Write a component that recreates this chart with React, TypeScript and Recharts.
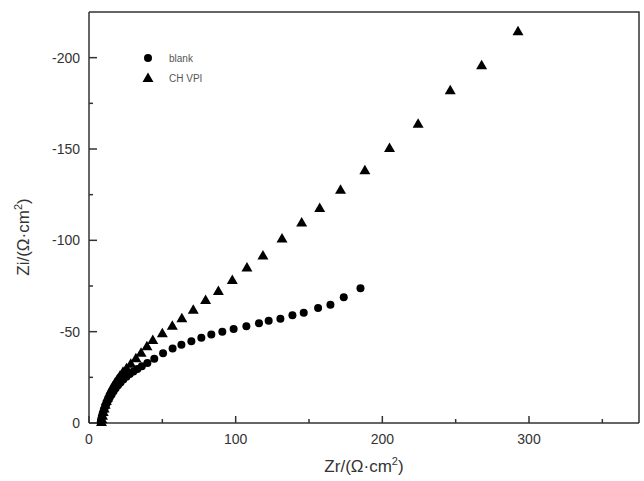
import { ScatterChart, Scatter, XAxis, YAxis } from 'recharts'

// Zr (ohm cm2) and Zi (ohm cm2)
const blankZr = [8, 8.3, 8.7, 9.2, 9.8, 10.5, 11.3, 12.2, 13.2, 14.3, 15.5, 16.8, 18.2, 19.8, 21.5, 23.4, 25.5, 27.8, 30.3, 33, 36, 39.8, 44.5, 50.5, 57, 63, 69.8, 76.6, 83.4, 90.9, 98.6, 107.3, 115.9, 122.5, 130.5, 138.7, 146.4, 156.2, 164.6, 173.7, 185.1]
const blankZi = [-0.5, -1.8, -3.2, -4.7, -6.2, -7.8, -9.4, -11, -12.6, -14.2, -15.8, -17.4, -19, -20.6, -22.2, -23.8, -25.3, -26.8, -28.2, -29.6, -31, -32.8, -35.2, -38.2, -40.8, -42.8, -44.8, -46.7, -48.5, -50, -51.5, -53, -54.6, -56, -57.1, -59, -60.4, -63, -64.8, -68.8, -73.8]

const vpiZr = [8.5, 8.8, 9.2, 9.7, 10.3, 11, 11.8, 12.7, 13.8, 15, 16.3, 17.8, 19.4, 21.2, 23.2, 25.6, 28.5, 32, 35.5, 39.5, 43.5, 50, 56.8, 63.3, 71.1, 79.5, 88.2, 97.7, 107.7, 118.6, 131.6, 145, 157.3, 171.5, 188.1, 204.9, 224.4, 246.3, 267.7, 292.5]
const vpiZi = [-0.5, -2, -4, -6, -8, -10, -12, -14, -16, -18, -20, -22, -24, -26, -28, -30, -32.5, -35.5, -38.5, -42, -45.4, -49.1, -53.3, -57.3, -62, -67.3, -72.2, -78.3, -85.1, -91.7, -101, -109.8, -117.7, -127.7, -138.3, -150.6, -163.8, -182.2, -195.8, -214.4]

const xTicks = [0, 50, 100, 150, 200, 250, 300, 350]
const yTicks = [0, -25, -50, -75, -100, -125, -150, -175, -200]

const blankData = blankZr.map((x, i) => ({ x, y: blankZi[i] }))
const vpiData = vpiZr.map((x, i) => ({ x, y: vpiZi[i] }))

const INK = '#333'
const FONT = '"Liberation Sans", Arial, sans-serif'
const TS = 6 // recharts tick size; custom ticks offset by it to reach the spine

// plot box follows from chart size, margins and axis sizes
const W = 644
const H = 481
const M = { top: 12, right: 5, left: 0, bottom: 0 }
const Y_W = 89
const X_H = 58
const PLOT_L = M.left + Y_W
const PLOT_T = M.top
const PLOT_R = W - M.right
const PLOT_B = H - M.bottom - X_H

const CircleDot = (props: any) => <circle cx={props.cx} cy={props.cy} r={4} fill="#000" />
const TriDot = (props: any) => (
  <polygon
    points={`${props.cx},${props.cy - 5.5} ${props.cx - 5.5},${props.cy + 4} ${props.cx + 5.5},${props.cy + 4}`}
    fill="#000"
  />
)

// ticks point inward, minor ones shorter and unlabelled
const XTick = (props: any) => {
  const { x, payload } = props
  const y = props.y - TS
  const major = payload.value % 100 === 0
  return (
    <g>
      <line x1={x} x2={x} y1={y} y2={y - (major ? 7 : 4)} stroke={INK} strokeWidth={1.5} />
      {major && (
        <text x={x} y={y + 21} textAnchor="middle" fontSize={14} fill={INK} fontFamily={FONT}>
          {payload.value}
        </text>
      )}
    </g>
  )
}

const YTick = (props: any) => {
  const { y, payload } = props
  const x = props.x + TS
  const major = payload.value % 50 === 0
  return (
    <g>
      <line x1={x} x2={x + (major ? 8 : 4)} y1={y} y2={y} stroke={INK} strokeWidth={1.5} />
      {major && (
        <text x={x - 9} y={y + 5} textAnchor="end" fontSize={14} fill={INK} fontFamily={FONT}>
          {payload.value}
        </text>
      )}
    </g>
  )
}

export default function App() {
  return (
    <div style={{ position: 'absolute', left: 0, top: 0, width: W, height: H, background: '#fff' }}>
      <ScatterChart width={W} height={H} margin={M}>
        <XAxis
          type="number"
          dataKey="x"
          domain={[0, 375]}
          ticks={xTicks}
          interval={0}
          height={X_H}
          tickSize={TS}
          tickMargin={0}
          tick={<XTick />}
          axisLine={{ stroke: INK, strokeWidth: 1.5 }}
          tickLine={false}
        />
        <YAxis
          type="number"
          dataKey="y"
          domain={[-225, 0]}
          reversed
          ticks={yTicks}
          interval={0}
          width={Y_W}
          tickSize={TS}
          tickMargin={0}
          tick={<YTick />}
          axisLine={{ stroke: INK, strokeWidth: 1.5 }}
          tickLine={false}
        />
        <Scatter name="blank" data={blankData} shape={<CircleDot />} isAnimationActive={false} />
        <Scatter name="CH VPI" data={vpiData} shape={<TriDot />} isAnimationActive={false} />
      </ScatterChart>

      <svg
        width={W}
        height={H}
        style={{ position: 'absolute', left: 0, top: 0, pointerEvents: 'none', overflow: 'visible' }}
      >
        {/* top and right of the frame */}
        <path
          d={`M${PLOT_L},${PLOT_T} L${PLOT_R},${PLOT_T} L${PLOT_R},${PLOT_B}`}
          fill="none"
          stroke={INK}
          strokeWidth={1.5}
        />

        {/* legend */}
        <circle cx={148} cy={58} r={4} fill="#000" />
        <text x={169} y={62} fontSize={10} fill="#555" fontFamily={FONT}>blank</text>
        <polygon points="148,72.5 142.5,82 153.5,82" fill="#000" />
        <text x={169} y={82} fontSize={10} fill="#555" fontFamily={FONT}>CH VPI</text>

        <text x={364} y={472} textAnchor="middle" fontSize={17} fill={INK} fontFamily={FONT}>
          Zr/(Ω·cm<tspan dy={-7} fontSize={11}>2</tspan><tspan dy={7}>)</tspan>
        </text>
        <text
          transform="translate(29,237) rotate(-90)"
          textAnchor="middle"
          fontSize={17}
          fill={INK}
          fontFamily={FONT}
        >
          Zi/(Ω·cm<tspan dy={-7} fontSize={11}>2</tspan><tspan dy={7}>)</tspan>
        </text>
      </svg>
    </div>
  )
}
